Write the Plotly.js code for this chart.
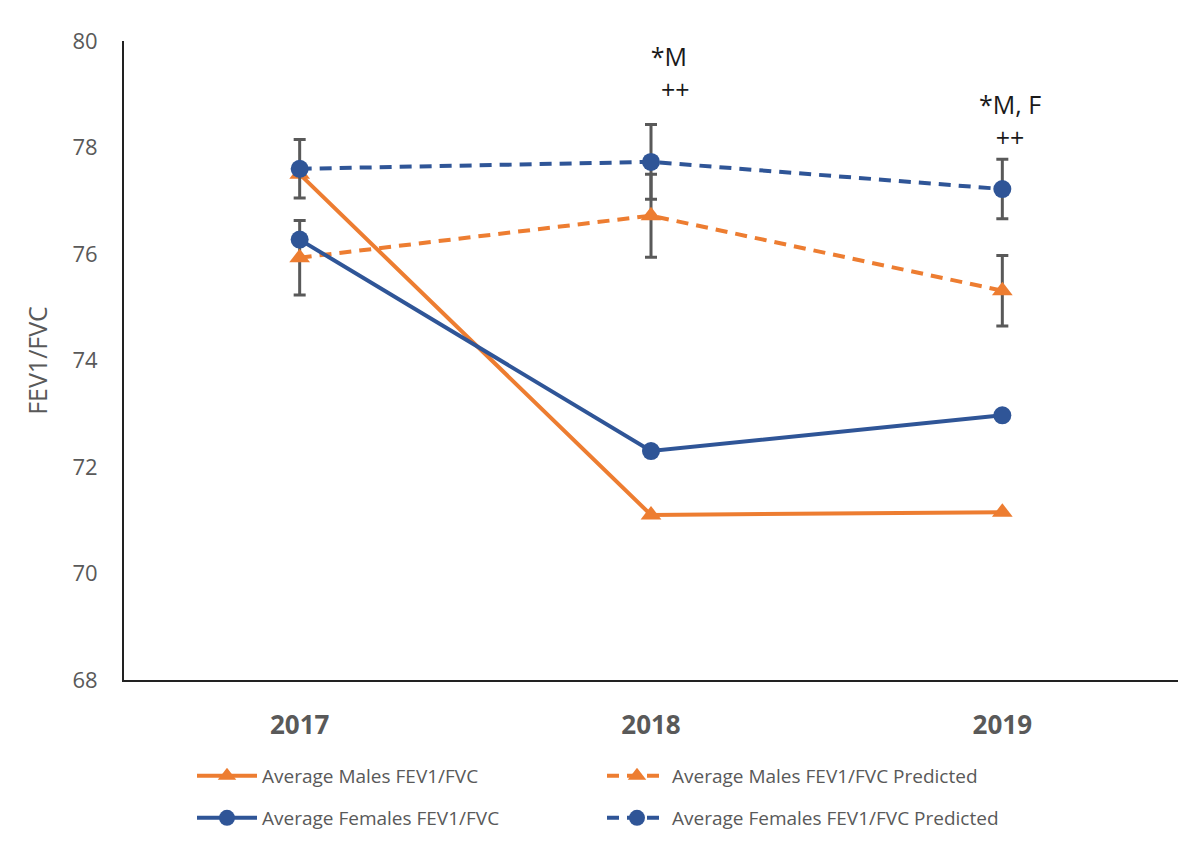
<!DOCTYPE html>
<html>
<head>
<meta charset="utf-8">
<script src="https://cdn.plot.ly/plotly-3.0.1.min.js"></script>
<style>html,body{margin:0;padding:0;background:#fff;}#chart{width:1200px;height:860px;}</style>
</head>
<body>
<div id="chart"></div>
<script>
const years = ['2017', '2018', '2019'];
const malesActual = [77.5, 71.1, 71.15];
const malesPredicted = [75.93, 76.72, 75.31];
const malesPredictedErr = [0.70, 0.78, 0.66];
const femalesActual = [76.27, 72.3, 72.97];
const femalesPredicted = [77.6, 77.73, 77.22];
const femalesPredictedErr = [0.55, 0.70, 0.56];
const seriesNames = ['Average Males FEV1/FVC', 'Average Males FEV1/FVC Predicted',
                     'Average Females FEV1/FVC', 'Average Females FEV1/FVC Predicted'];
const sigLabels = [
  {year: '2018', text: '*M<br>\u00a0\u00a0++', y: 79.40, xs: 18},
  {year: '2019', text: '*M, F<br>++', y: 78.50, xs: 8}
];

const ORANGE = '#ED7D31';
const BLUE = '#2F5597';
const GRAY = '#595959';
const errStyle = {type: 'data', visible: true, color: GRAY, thickness: 3, width: 6};

const traces = [
  {x: years, y: malesActual, name: seriesNames[0], type: 'scatter', mode: 'lines+markers', legend: 'legend',
   line: {color: ORANGE, width: 4}, marker: {symbol: 'triangle-up', size: 18, color: ORANGE}},
  {x: years, y: malesPredicted, name: seriesNames[1], type: 'scatter', mode: 'lines+markers', legend: 'legend',
   line: {color: ORANGE, width: 4, dash: '12px,8px'}, marker: {symbol: 'triangle-up', size: 18, color: ORANGE},
   error_y: Object.assign({array: malesPredictedErr}, errStyle)},
  {x: years, y: femalesActual, name: seriesNames[2], type: 'scatter', mode: 'lines+markers', legend: 'legend2',
   line: {color: BLUE, width: 4}, marker: {symbol: 'circle', size: 18, color: BLUE}},
  {x: years, y: femalesPredicted, name: seriesNames[3], type: 'scatter', mode: 'lines+markers', legend: 'legend2',
   line: {color: BLUE, width: 4, dash: '12px,8px'}, marker: {symbol: 'circle', size: 18, color: BLUE},
   error_y: Object.assign({array: femalesPredictedErr}, errStyle)}
];

const annotations = sigLabels.map(s => ({
  xref: 'x', yref: 'y', x: years.indexOf(s.year), y: s.y, xshift: s.xs, text: s.text, showarrow: false,
  align: 'center', borderpad: 0,
  font: {family: 'Open Sans, sans-serif', size: 25, color: '#1a1a1a'}
}));

const legendBase = {
  orientation: 'h', xref: 'container', yref: 'container',
  x: 0.16, xanchor: 'left', yanchor: 'top',
  entrywidth: 335, entrywidthmode: 'pixels', itemwidth: 60,
  font: {size: 19, color: GRAY}, bgcolor: 'rgba(0,0,0,0)'
};

const layout = {
  width: 1200, height: 860,
  paper_bgcolor: '#fff', plot_bgcolor: '#fff',
  margin: {l: 124, r: 22, t: 41, b: 180},
  showlegend: true,
  font: {family: 'Open Sans, sans-serif', color: GRAY},
  xaxis: {
    type: 'category', range: [-0.5, 2.5], showgrid: false, zeroline: false,
    showline: true, linecolor: '#222', linewidth: 2,
    ticks: 'outside', ticklen: 21, tickcolor: 'rgba(0,0,0,0)',
    tickfont: {size: 26, color: GRAY, family: 'Open Sans, sans-serif', weight: 'bold'}
  },
  yaxis: {
    range: [68, 80], dtick: 2, showgrid: false, zeroline: false,
    showline: true, linecolor: '#222', linewidth: 2,
    ticks: 'outside', ticklen: 20, tickcolor: 'rgba(0,0,0,0)',
    tickfont: {size: 22, color: GRAY},
    title: {text: 'FEV1/FVC', font: {size: 25, color: GRAY}, standoff: 18}
  },
  legend: Object.assign({y: 0.12}, legendBase),
  legend2: Object.assign({y: 0.071}, legendBase),
  annotations: annotations
};

Plotly.newPlot('chart', traces, layout, {displayModeBar: false, staticPlot: true});
</script>
</body>
</html>
